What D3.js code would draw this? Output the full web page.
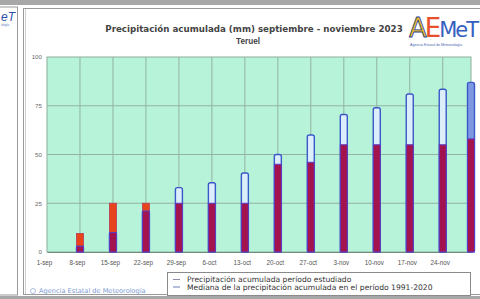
<!DOCTYPE html>
<html>
<head>
<meta charset="UTF-8">
<script src="https://d3js.org/d3.v7.min.js"></script>
<style>
  body { margin: 0; background: #fff; }
  svg { display: block; font-family: "Liberation Sans", Arial, sans-serif; }
</style>
</head>
<body>
<svg width="480" height="299"></svg>
<script>
// fechas de cada barra (semana) y último día del periodo
var fechas = ["2023-09-01", "2023-09-08", "2023-09-15", "2023-09-22", "2023-09-29", "2023-10-06", "2023-10-13",
              "2023-10-20", "2023-10-27", "2023-11-03", "2023-11-10", "2023-11-17", "2023-11-24", "2023-11-30"];
// precipitación acumulada periodo estudiado (mm)
var estudiado = [0, 9.5, 25, 25, 25, 25, 25, 45, 46, 55, 55, 55, 55, 58];
// mediana de la precipitación acumulada 1991-2020 (mm)
var mediana = [0, 3, 10, 21, 33, 35.5, 40.5, 50, 60, 70.5, 74, 81, 83.5, 87];
var ticksY = [0, 25, 50, 75, 100];
var etiquetasX = ["1-sep", "8-sep", "15-sep", "22-sep", "29-sep", "6-oct", "13-oct", "20-oct", "27-oct",
                  "3-nov", "10-nov", "17-nov", "24-nov"];

var parse = d3.timeParse("%Y-%m-%d");
var data = fechas.map(function(f, i) {
    return { fecha: parse(f), est: estudiado[i], med: mediana[i] };
});

var svg = d3.select("svg");
var pIzq = 47, pDer = 471, pSup = 57, pInf = 252;
var fuenteAncha = "DejaVu Sans, Verdana, sans-serif";

var x = d3.scaleTime().domain([parse(fechas[0]), parse(fechas[fechas.length - 1])]).range([pIzq, pDer]);
var y = d3.scaleLinear().domain([0, 100]).range([pInf, pSup]);

// marcos de la imagen
svg.append("rect").attr("x", 0).attr("y", 0).attr("width", 480).attr("height", 5).attr("fill", "#a8a8a8");
svg.append("rect").attr("x", 0).attr("y", 296).attr("width", 480).attr("height", 3).attr("fill", "#a8a8a8");
svg.append("rect").attr("x", -2).attr("y", 7).attr("width", 19.5).attr("height", 288)
    .attr("fill", "#fff").attr("stroke", "#9a9a9a");
svg.append("rect").attr("x", 23.5).attr("y", 8.5).attr("width", 470).attr("height", 286)
    .attr("fill", "#fff").attr("stroke", "#9a9a9a");
svg.append("line").attr("x1", 25.5).attr("x2", 25.5).attr("y1", 9).attr("y2", 294).attr("stroke", "#d0d0d0");

// trozo del logo en el panel izquierdo
svg.append("text").attr("x", 1).attr("y", 21).attr("font-size", "12px").attr("font-style", "italic")
    .attr("fill", "#2b4fa8").text("eT");
svg.append("text").attr("x", 1).attr("y", 26).attr("font-size", "3px").attr("fill", "#5a7ac0").text("ología");

// título
svg.append("text").attr("x", 254).attr("y", 32).attr("text-anchor", "middle")
    .attr("font-size", "8.7px").attr("font-weight", "bold").attr("fill", "#444")
    .attr("font-family", fuenteAncha)
    .text("Precipitación acumulada (mm) septiembre - noviembre 2023");
svg.append("text").attr("x", 248).attr("y", 44).attr("text-anchor", "middle")
    .attr("font-size", "8.2px").attr("font-weight", "bold").attr("fill", "#444")
    .attr("font-family", "Liberation Sans, Arial, sans-serif")
    .text("Teruel");

// logo AEMET
var logo = svg.append("text").attr("x", 409).attr("y", 37).attr("font-size", "26px")
    .attr("font-family", "DejaVu Sans, sans-serif").attr("letter-spacing", "-2");
logo.append("tspan").attr("fill", "#f0c020").attr("stroke", "#2a3f9a").attr("stroke-width", 0.8).text("A");
logo.append("tspan").attr("fill", "#e8502a").text("E");
logo.append("tspan").attr("fill", "#3560c0").attr("font-size", "21px").text("Me");
logo.append("tspan").attr("fill", "#3560c0").attr("font-size", "21px").text("T");
svg.append("text").attr("x", 410).attr("y", 46).attr("font-size", "3.6px").attr("fill", "#4a6ab8")
    .text("Agencia Estatal de Meteorología");

// fondo del gráfico
svg.append("rect").attr("x", pIzq).attr("y", pSup).attr("width", pDer - pIzq).attr("height", pInf - pSup)
    .attr("fill", "#b6f3d9").attr("stroke", "#8fae9c");

// rejilla
svg.append("g").selectAll("line").data(ticksY.slice(1, 4)).enter().append("line")
    .attr("x1", pIzq).attr("x2", pDer)
    .attr("y1", function(d) { return y(d); }).attr("y2", function(d) { return y(d); })
    .attr("stroke", "#93b3a0").attr("stroke-width", 1);
svg.append("g").selectAll("line").data(data.slice(1, data.length - 1)).enter().append("line")
    .attr("x1", function(d) { return x(d.fecha); }).attr("x2", function(d) { return x(d.fecha); })
    .attr("y1", pSup).attr("y2", pInf)
    .attr("stroke", "#93b3a0").attr("stroke-width", 1);

// ejes
var gy = svg.append("g").attr("transform", "translate(" + pIzq + ",0)")
    .call(d3.axisLeft(y).tickValues(ticksY).tickSize(0).tickPadding(5));
gy.select(".domain").remove();
gy.selectAll("text").attr("font-size", "6.2px").attr("fill", "#6a6a6a")
    .attr("font-family", "Liberation Sans, Arial, sans-serif");

var gx = svg.append("g").attr("transform", "translate(0," + pInf + ")")
    .call(d3.axisBottom(x).tickValues(data.slice(0, etiquetasX.length).map(function(d) { return d.fecha; }))
        .tickFormat(function(d, i) { return etiquetasX[i]; }).tickSize(0).tickPadding(9));
gx.select(".domain").attr("stroke", "#6f8c7c");
gx.selectAll("text").attr("font-size", "6.3px").attr("fill", "#555").attr("dx", "-3")
    .attr("font-family", "Liberation Sans, Arial, sans-serif");

// barras
var bw = 7;
var barras = svg.append("g");
// mediana
barras.selectAll(".med").data(data).enter().append("rect").attr("class", "med")
    .attr("x", function(d) { return x(d.fecha) - bw / 2; })
    .attr("y", function(d) { return y(d.med); })
    .attr("width", bw)
    .attr("height", function(d) { return pInf - y(d.med); })
    .attr("rx", 2)
    .attr("fill", function(d, i) { return i === data.length - 1 ? "#7d97e2" : "#dcedfc"; })
    .attr("stroke", "#3a58c8").attr("stroke-width", 1.4)
    .style("display", function(d) { return d.med > 0 ? null : "none"; });
// parte del periodo estudiado por encima de la mediana
barras.selectAll(".exc").data(data.filter(function(d) { return d.est > d.med; })).enter().append("rect")
    .attr("class", "exc")
    .attr("x", function(d) { return x(d.fecha) - bw / 2; })
    .attr("y", function(d) { return y(d.est); })
    .attr("width", bw)
    .attr("height", function(d) { return y(d.med) - y(d.est); })
    .attr("fill", "#e8441c").attr("stroke", "#b83a5a").attr("stroke-width", 0.8);
// solape
barras.selectAll(".sol").data(data).enter().append("rect").attr("class", "sol")
    .attr("x", function(d) { return x(d.fecha) - bw / 2; })
    .attr("y", function(d) { return y(Math.min(d.est, d.med)); })
    .attr("width", bw)
    .attr("height", function(d) { return pInf - y(Math.min(d.est, d.med)); })
    .attr("fill", "#a3144f").attr("stroke", "#5a3cc4").attr("stroke-width", 1)
    .style("display", function(d) { return Math.min(d.est, d.med) > 0 ? null : "none"; });

// leyenda
svg.append("rect").attr("x", 167.5).attr("y", 272.5).attr("width", 303).attr("height", 23)
    .attr("fill", "#fff").attr("stroke", "#8a8a8a");
var ley = [
    { t: "Precipitación acumulada período estudiado", c: "#8a8fa8" },
    { t: "Mediana de la precipitación acumulada en el período 1991-2020", c: "#6a7fb8" }
];
var li = svg.append("g").selectAll("g").data(ley).enter().append("g")
    .attr("transform", function(d, i) { return "translate(0," + (282 + i * 7.5) + ")"; });
li.append("line").attr("x1", 173).attr("x2", 180).attr("y1", -2.5).attr("y2", -2.5)
    .attr("stroke", function(d) { return d.c; }).attr("stroke-width", 1);
li.append("text").attr("x", 187).attr("y", 0).attr("font-size", "7.6px").attr("fill", "#333")
    .attr("font-family", fuenteAncha)
    .text(function(d) { return d.t; });

// pie
svg.append("circle").attr("cx", 33).attr("cy", 291).attr("r", 2.5).attr("fill", "none")
    .attr("stroke", "#8aa4d6").attr("stroke-width", 0.7);
svg.append("text").attr("x", 39).attr("y", 293).attr("font-size", "6.6px").attr("fill", "#7d9ad2")
    .attr("font-family", fuenteAncha)
    .text("Agencia Estatal de Meteorología");
</script>
</body>
</html>
